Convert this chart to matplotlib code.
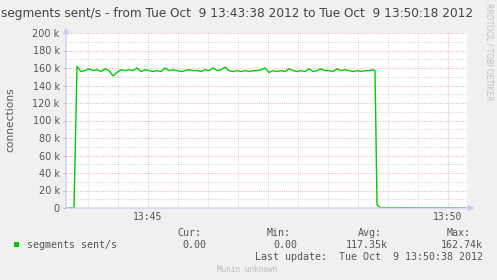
import numpy as np
import matplotlib
matplotlib.use("Agg")
import matplotlib.pyplot as plt
from matplotlib.patches import Rectangle

# --- DATA (seconds after 13:43:38, values in k) ---
lead_t = [0, 8]
lead_v = [0, 0]
main_v = [162, 156, 157, 159, 157, 158, 156, 159, 157, 151,
          155, 158, 157, 158, 157, 160, 156, 158, 157, 156,
          157, 156, 160, 157, 158, 157, 156, 157, 158, 157,
          157, 156, 158, 157, 160, 157, 158, 161, 157, 156,
          157, 156, 157, 156, 157, 157, 158, 160, 155, 157,
          156, 157, 156, 159, 157, 156, 157, 156, 159, 156,
          157, 159, 157, 157, 156, 159, 157, 158, 157, 156,
          157, 156, 157, 157, 158]
tail_t = [309, 311, 314, 400]
tail_v = [157, 4, 0.5, 0]

y_ticks = [0, 20, 40, 60, 80, 100, 120, 140, 160, 180, 200]
y_labels = ["0"] + [f"{v} k" for v in y_ticks[1:]]
x_ticks = [82, 382]
x_labels = ["13:45", "13:50"]

legend_name = "segments sent/s"
stat_heads = ["Cur:", "Min:", "Avg:", "Max:"]
stat_vals = ["0.00", "0.00", "117.35k", "162.74k"]

W, H = 497, 280
BG = "#f0f0f0"
GREEN = "#00cc00"
TXT = "#555555"
MINOR = "#cccccc"
MAJOR = "#f0a0a0"
AXIS = "#c8c8f4"
MONO = "DejaVu Sans Mono"


def fx(x):
    return x / W


def fy(y):
    return 1 - y / H


main_t = list(np.arange(11, 11 + 4 * len(main_v), 4))
t = lead_t + main_t + tail_t
v = np.array(lead_v + main_v + tail_v) * 1000

fig = plt.figure(figsize=(W / 100, H / 100), dpi=100, facecolor=BG)
ax = fig.add_axes([fx(66), fy(208), 401 / W, 175 / H])
ax.set_facecolor("white")
ax.set_xlim(0, 401)
ax.set_ylim(0, 200000)
for s in ax.spines.values():
    s.set_visible(False)

dots = (0, (0.75, 1.45))
# grid: minor every 10k / 30 s, major every 20k / 5 min
for yv in range(10000, 200001, 10000):
    col = MAJOR if yv % 20000 == 0 else MINOR
    ax.axhline(yv, color=col, lw=0.75, ls=dots, zorder=1)
for xv in range(22, 401, 30):
    col = MAJOR if xv in x_ticks else MINOR
    ax.axvline(xv, color=col, lw=0.75, ls=dots, zorder=1)

ax.plot(t, v, color=GREEN, lw=1.0, zorder=3, solid_joinstyle="miter")

# axes with arrows
ax.annotate("", xy=(0, 1.03), xytext=(0, 0), xycoords="axes fraction",
            arrowprops=dict(arrowstyle="-|>,head_length=0.35,head_width=0.18",
                            color=AXIS, lw=0.8, shrinkA=0, shrinkB=0),
            annotation_clip=False, zorder=4)
ax.annotate("", xy=(1.018, 0), xytext=(0, 0), xycoords="axes fraction",
            arrowprops=dict(arrowstyle="-|>,head_length=0.35,head_width=0.18",
                            color=AXIS, lw=0.8, shrinkA=0, shrinkB=0),
            annotation_clip=False, zorder=4)

ax.set_yticks([y * 1000 for y in y_ticks])
ax.set_yticklabels(y_labels, fontsize=7, color=TXT)
ax.set_xticks(x_ticks)
ax.set_xticklabels(x_labels, fontsize=7, color=TXT, family=MONO)
ax.tick_params(axis="y", length=2.5, width=0.7, color=MAJOR, pad=2)
ax.tick_params(axis="x", length=0, pad=3)

fig.text(fx(237), fy(14), "segments sent/s - from Tue Oct  9 13:43:38 2012 to Tue Oct  9 13:50:18 2012",
         ha="center", va="center", fontsize=8.7, color="#444444")
fig.text(fx(10), fy(120), "connections", rotation=90, ha="center", va="center",
         fontsize=7.7, color=TXT)
fig.text(fx(489), fy(3), "RRDTOOL / TOBI OETIKER", rotation=270, ha="center", va="top",
         fontsize=5.5, color="#c0c0c0")

# legend
fig.patches.append(Rectangle((fx(14), fy(247)), 5 / W, 5 / H, transform=fig.transFigure,
                             facecolor=GREEN, edgecolor="none"))
fig.text(fx(27), fy(245), legend_name, ha="left", va="center", fontsize=7.2,
         color=TXT, family=MONO)
head_x = [177, 267, 358, 447]
val_right = [206, 297, 388, 483]
for hx, hd in zip(head_x, stat_heads):
    fig.text(fx(hx), fy(233), hd, ha="left", va="center", fontsize=7.2, color=TXT, family=MONO)
for vx, vv in zip(val_right, stat_vals):
    fig.text(fx(vx), fy(245), vv, ha="right", va="center", fontsize=7.2, color=TXT, family=MONO)
fig.text(fx(483), fy(257), "Last update:  Tue Oct  9 13:50:38 2012", ha="right", va="center",
         fontsize=7.2, color=TXT, family=MONO)
fig.text(fx(217), fy(269), "Munin unknown", ha="left", va="center", fontsize=5.5,
         color="#bbbbbb", family=MONO)

fig.savefig("out.png", dpi=100, facecolor=BG)
